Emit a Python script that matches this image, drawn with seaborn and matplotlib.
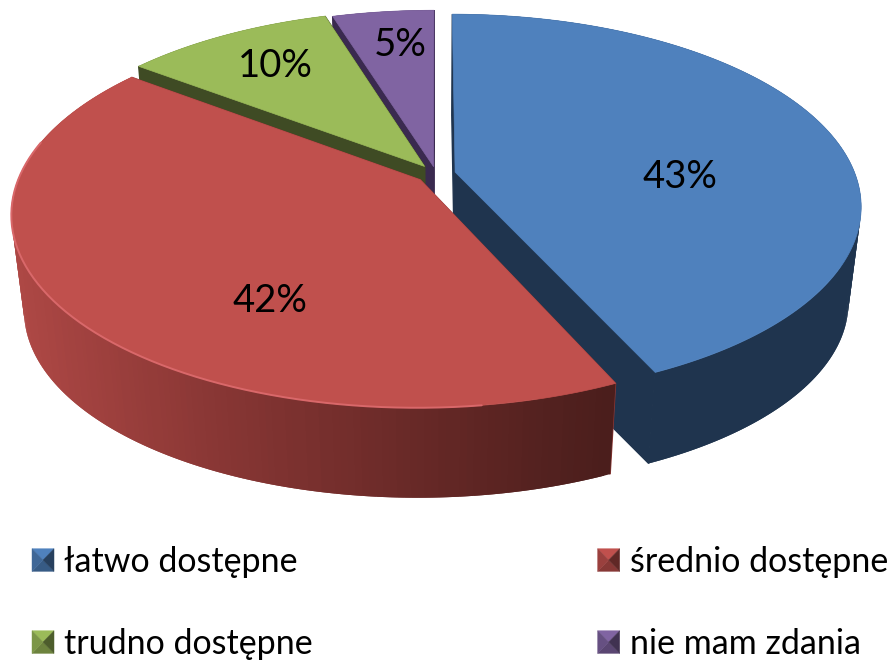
import numpy as np
import matplotlib
matplotlib.use('Agg')
import matplotlib.pyplot as plt
import seaborn as sns
from matplotlib.legend_handler import HandlerBase
from matplotlib.patches import Patch, Polygon

categories = ['łatwo dostępne', 'średnio dostępne', 'trudno dostępne', 'nie mam zdania']
shares = [43.2, 42.1, 9.9, 4.8]

top_colors = ['#4f81bd', '#c0504d', '#9bbb59', '#8064a2']
wall_colors = ['#1f344e', '#8e3835', '#3f4b24', '#3a2a4f']
label_xy = [(680, 177), (270, 301), (275, 66), (400, 45)]
explode = [0.049, 0.05, 0.05, 0.04]

# geometria rzutu (piksele)
CX, CY = 436, 174
RX, RY = 400, 186
K = 0.174
SHRINK, DEPTH = 0.97, 97


def project(theta, r, bis, e):
    u = r * np.sin(theta) + e * np.sin(bis)
    v = r * np.cos(theta) + e * np.cos(bis)
    w = 1 + K * v
    return CX + RX * u / w, CY - RY * v / w


def lower(x, y):
    return CX + (x - CX) * SHRINK, CY + (y - CY) * SHRINK + DEPTH


class BevelHandler(HandlerBase):
    # kwadrat legendy z czterema scianami
    def create_artists(self, legend, orig, xd, yd, width, height, fontsize, trans):
        base = orig.get_facecolor()
        x0, y0 = -xd, -yd
        x1, y1 = x0 + width, y0 + height
        xc, yc = (x0 + x1) / 2, (y0 + y1) / 2
        shades = sns.blend_palette([base, 'black'], 11)
        faces = [
            ([(x0, y1), (x1, y1), (xc, yc)], shades[0]),
            ([(x0, y0), (x1, y0), (xc, yc)], shades[3]),
            ([(x0, y0), (x0, y1), (xc, yc)], shades[2]),
            ([(x1, y0), (x1, y1), (xc, yc)], shades[5]),
        ]
        return [Polygon(p, closed=True, facecolor=c, edgecolor=c, lw=0.3, transform=trans)
                for p, c in faces]


def main():
    sns.set_theme(style='white')
    plt.rcParams['font.family'] = ['Lato', 'DejaVu Sans']

    fig = plt.figure(figsize=(8.95, 6.61), dpi=100)
    ax = fig.add_axes([0, 0, 1, 1])
    ax.set_xlim(0, 895)
    ax.set_ylim(661, 0)
    ax.axis('off')

    # katy wycinkow, zgodnie z ruchem wskazowek od gory
    edges = np.cumsum([0] + shares) / sum(shares) * 2 * np.pi

    # cieniowanie sciany czerwonego wycinka, od lewej do prawej
    red_wall = sns.blend_palette(['#ae4845', '#8a3735', '#6a2a28', '#4b1e1c'], 100)

    # kolejnosc malowania: od tylu do przodu
    for i in [3, 2, 0, 1]:
        t0, t1 = edges[i], edges[i + 1]
        bis = (t0 + t1) / 2
        e = explode[i]
        thetas = np.linspace(t0, t1, 181)
        xs, ys = project(thetas, 1.0, bis, e)
        xb, yb = lower(xs, ys)
        ax_, ay_ = project(bis, 0.0, bis, e)
        axb, ayb = lower(ax_, ay_)

        # sciany boczne przy srodku
        for j in [0, -1]:
            ax.fill([ax_, xs[j], xb[j], axb], [ay_, ys[j], yb[j], ayb],
                    color=wall_colors[i], lw=1)

        # sciana zewnetrzna: paski zachodza na siebie, zeby nie bylo widac szwow
        for j in range(len(thetas) - 2, -1, -1):
            k = min(j + 2, len(thetas) - 1)
            if i == 1:
                pos = (xs[j] - xs.min()) / (xs.max() - xs.min())
                c = red_wall[min(int(pos * 100), 99)]
            else:
                c = wall_colors[i]
            ax.fill([xs[j], xs[k], xb[k], xb[j]], [ys[j], ys[k], yb[k], yb[j]], color=c, lw=0)

        ax.fill(np.r_[ax_, xs], np.r_[ay_, ys], color=top_colors[i], lw=0.5)

        # jasna krawedz na czerwonym wycinku
        if i == 1:
            mask = (thetas > np.radians(172)) & (thetas < np.radians(282))
            ax.plot(xs[mask], ys[mask], color='#d9686a', lw=1.4, solid_capstyle='round')

    for xy, v in zip(label_xy, shares):
        ax.text(xy[0], xy[1], f'{round(v)}%', fontsize=27.5, color='black', ha='center', va='center')

    order = [0, 2, 1, 3]
    handles = [Patch(facecolor=top_colors[i]) for i in order]
    labels = [categories[i] for i in order]
    ax.legend(handles, labels, ncol=2, loc='upper left', bbox_to_anchor=(32, 546),
              bbox_transform=ax.transData, frameon=False, fontsize=24.5, borderpad=0,
              borderaxespad=0, handlelength=0.647, handleheight=0.647, handletextpad=0.29,
              labelspacing=1.47, columnspacing=8.38, labelcolor='black',
              handler_map={Patch: BevelHandler()})

    plt.savefig('out.png', dpi=100)


if __name__ == '__main__':
    main()
